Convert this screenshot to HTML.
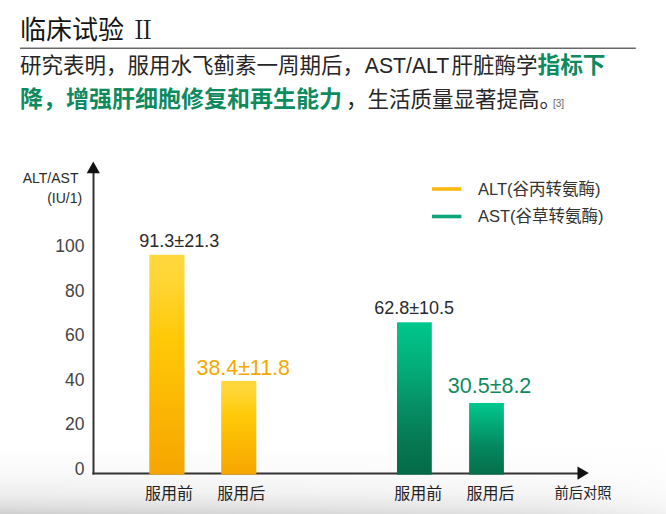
<!DOCTYPE html>
<html lang="zh-CN">
<head>
<meta charset="utf-8">
<title>临床试验 II</title>
<style>
html,body{margin:0;padding:0;background:#fff;}
body{width:666px;height:514px;overflow:hidden;position:relative;font-family:"Liberation Sans",sans-serif;}
#chart{position:absolute;left:0;top:0;width:666px;height:514px;display:block;}
#chart text{font-family:"Liberation Sans","Noto Sans CJK SC",sans-serif;}
#labels{position:absolute;left:0;top:0;width:666px;height:514px;overflow:hidden;}
#labels span{position:absolute;white-space:nowrap;overflow:hidden;line-height:1.15;color:transparent;font-family:"Liberation Sans",sans-serif;}
</style>
</head>
<body>
<svg id="chart" width="666" height="514" viewBox="0 0 666 514" role="img" aria-label="临床试验 II 柱状图">
<defs>
<linearGradient id="bg" x1="0" y1="0" x2="0" y2="1"><stop offset="0" stop-color="#fff"/><stop offset="0.4" stop-color="#fafafa"/><stop offset="0.7" stop-color="#efefef"/><stop offset="0.88" stop-color="#e0e0e0"/><stop offset="1" stop-color="#d0d0d0"/></linearGradient>
<linearGradient id="bgr" x1="0" y1="0" x2="1" y2="0"><stop offset="0" stop-color="#fff" stop-opacity="0"/><stop offset="0.5" stop-color="#fff" stop-opacity="0.2"/><stop offset="0.82" stop-color="#fff" stop-opacity="0.4"/><stop offset="1" stop-color="#fff" stop-opacity="0.72"/></linearGradient>
<linearGradient id="gy" x1="0" y1="0" x2="0" y2="1"><stop offset="0" stop-color="#ffd83e"/><stop offset="0.12" stop-color="#ffd534"/><stop offset="0.38" stop-color="#ffc907"/><stop offset="0.7" stop-color="#fbb604"/><stop offset="1" stop-color="#f5a500"/></linearGradient>
<linearGradient id="gg" x1="0" y1="0" x2="0" y2="1"><stop offset="0" stop-color="#00c78c"/><stop offset="0.3" stop-color="#03ad79"/><stop offset="0.55" stop-color="#068f64"/><stop offset="0.8" stop-color="#067752"/><stop offset="1" stop-color="#056a48"/></linearGradient>
<linearGradient id="gg2" x1="0" y1="0" x2="0" y2="1"><stop offset="0" stop-color="#00c98d"/><stop offset="0.6" stop-color="#05885f"/><stop offset="1" stop-color="#066e4b"/></linearGradient>
</defs>
<rect x="0" y="0" width="666" height="514" fill="#fff"/>
<rect x="0" y="444" width="666" height="70" fill="url(#bg)"/>
<rect x="0" y="444" width="666" height="70" fill="url(#bgr)"/>
<rect x="20" y="47.6" width="615.8" height="1.2" fill="#444"/>
<!-- axes -->
<rect x="92.5" y="170" width="2" height="304.5" fill="#333"/>
<rect x="92.4" y="472.5" width="487" height="2" fill="#333"/>
<path d="M93.3 161.5L99.9 173.2H86.7Z" fill="#111"/>
<path d="M588.8 473.1L577.5 466.4V479.8Z" fill="#111"/>
<!-- bars -->
<rect x="149.3" y="254.8" width="35.2" height="219.8" fill="url(#gy)"/>
<rect x="221.2" y="380.9" width="35.1" height="93.7" fill="url(#gy)"/>
<rect x="397" y="322.3" width="34.8" height="152.3" fill="url(#gg)"/>
<rect x="469.1" y="403" width="34.8" height="71.6" fill="url(#gg2)"/>
<!-- legend -->
<rect x="432" y="187.2" width="29.4" height="3.6" fill="#fdbb12"/>
<rect x="432" y="214.7" width="29.4" height="3.6" fill="#0fa57b"/>

<g id="glyphs">
<text x="20" y="38.5" font-size="26" fill="#141414">临床试验</text>
<text x="130.5" y="39" font-size="25" fill="#1c1c1c" style="font-family:'Liberation Serif','Noto Serif CJK SC',serif">Ⅱ</text>
<text x="20" y="72.8" font-size="21.5" fill="#262626">研究表明，服用水飞蓟素一周期后，</text>
<text x="364.8" y="72.8" font-size="21.2" fill="#262626">AST/ALT</text>
<text x="451.5" y="72.8" font-size="21.5" fill="#262626">肝脏酶学</text>
<text x="537.5" y="72.8" font-size="22.7" font-weight="bold" fill="#0e8a5f">指标下</text>
<text x="20" y="106.7" font-size="23" font-weight="bold" fill="#0e8a5f">降，增强肝细胞修复和再生能力</text>
<text x="346" y="106.7" font-size="21.5" fill="#262626">，生活质量显著提高。</text>
<text x="553" y="106.9" font-size="10" fill="#666">[3]</text>
<text x="22.7" y="182.5" font-size="14" fill="#2a2a2a">ALT/AST</text>
<text x="47.2" y="202.8" font-size="14" fill="#2a2a2a">(IU/1)</text>
<text x="84.4" y="252.1" font-size="17.5" fill="#444" text-anchor="end">100</text>
<text x="84.4" y="296.6" font-size="17.5" fill="#444" text-anchor="end">80</text>
<text x="84.4" y="341.1" font-size="17.5" fill="#444" text-anchor="end">60</text>
<text x="84.4" y="385.6" font-size="17.5" fill="#444" text-anchor="end">40</text>
<text x="84.4" y="430.1" font-size="17.5" fill="#444" text-anchor="end">20</text>
<text x="84.4" y="474.6" font-size="17.5" fill="#444" text-anchor="end">0</text>
<text x="139.3" y="247.2" font-size="18" fill="#2a2a2a">91.3±21.3</text>
<text x="196.5" y="375.2" font-size="21.4" fill="#f5a800">38.4±11.8</text>
<text x="374.2" y="314" font-size="18" fill="#2a2a2a">62.8±10.5</text>
<text x="447.8" y="392.5" font-size="21.5" fill="#0e8a5f">30.5±8.2</text>
<text x="145" y="499" font-size="16" fill="#222">服用前</text>
<text x="217.2" y="499" font-size="16" fill="#222">服用后</text>
<text x="394.2" y="499" font-size="16" fill="#222">服用前</text>
<text x="466.5" y="499" font-size="16" fill="#222">服用后</text>
<text x="554.4" y="497.9" font-size="14.3" fill="#222">前后对照</text>
<text x="478" y="194.8" font-size="16.5" fill="#333">ALT(谷丙转氨酶)</text>
<text x="478" y="222.2" font-size="16.5" fill="#333">AST(谷草转氨酶)</text>
</g>
</svg>
<div id="labels">
<span style="left:20px;top:13px;font-size:26px;width:130px">临床试验 Ⅱ</span>
<span style="left:20px;top:54.17px;font-size:20.7px;width:585.62px">研究表明，服用水飞蓟素一周期后，AST/ALT肝脏酶学指标下</span>
<span style="left:20px;top:86.17px;font-size:22.7px;width:544.57px">降，增强肝细胞修复和再生能力，生活质量显著提高。[3]</span>
<span style="left:22.72px;top:169.9px;font-size:14px;width:57.88px">ALT/AST</span>
<span style="left:47.2px;top:190.2px;font-size:14px;width:34.9px">(IU/1)</span>
<span style="left:58.5px;top:236.35px;font-size:17.5px;width:25.4px">100</span>
<span style="left:65.35px;top:280.85px;font-size:17.5px;width:18.55px">80</span>
<span style="left:65.3px;top:325.35px;font-size:17.5px;width:18.6px">60</span>
<span style="left:64.95px;top:369.85px;font-size:17.5px;width:18.95px">40</span>
<span style="left:65.77px;top:414.35px;font-size:17.5px;width:18.13px">20</span>
<span style="left:75.18px;top:458.85px;font-size:17.5px;width:8.72px">0</span>
<span style="left:139.3px;top:231px;font-size:18px;width:72.91px">91.3±21.3</span>
<span style="left:196.5px;top:355.94px;font-size:21.4px;width:93.29px">38.4±11.8</span>
<span style="left:374.2px;top:297.8px;font-size:18px;width:76.23px">62.8±10.5</span>
<span style="left:447.8px;top:373.15px;font-size:21.5px;width:87.74px">30.5±8.2</span>
<span style="left:145px;top:484.8px;font-size:16px;width:46.61px">服用前</span>
<span style="left:217.2px;top:484.8px;font-size:16px;width:46.72px">服用后</span>
<span style="left:394.2px;top:484.8px;font-size:16px;width:46.61px">服用前</span>
<span style="left:466.5px;top:484.8px;font-size:16px;width:46.72px">服用后</span>
<span style="left:554.6px;top:485.13px;font-size:14.3px;width:55.81px">前后对照</span>
<span style="left:478px;top:179.95px;font-size:16.5px;width:119.95px">ALT(谷丙转氨酶)</span>
<span style="left:478px;top:207.35px;font-size:16.5px;width:119.83px">AST(谷草转氨酶)</span>
</div>
</body>
</html>
